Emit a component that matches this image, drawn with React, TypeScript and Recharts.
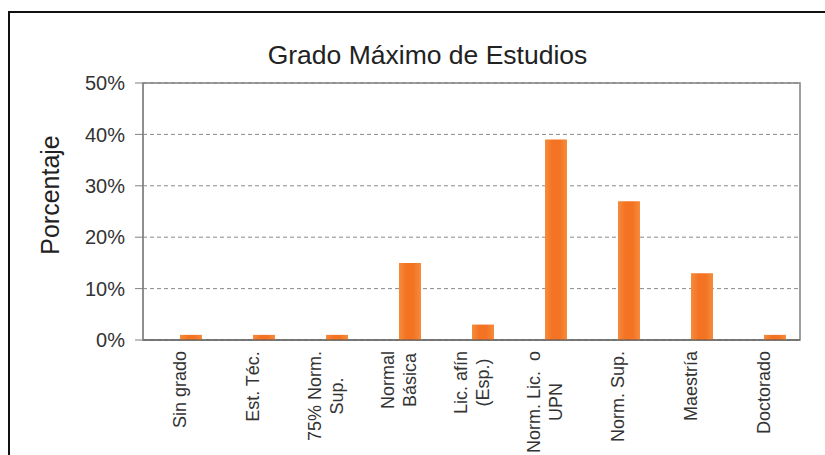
import { Bar, BarChart, CartesianGrid, ReferenceArea, XAxis, YAxis } from "recharts";

const FONT = "'Liberation Sans', Arial, sans-serif";
const ORANGE = "#F37323";
const AXIS = "#808080";

const categories = [
  "Sin grado",
  "Est. Téc.",
  "75% Norm.\nSup.",
  "Normal\nBásica",
  "Lic. afín\n(Esp.)",
  "Norm. Lic.  o\nUPN",
  "Norm. Sup.",
  "Maestría",
  "Doctorado",
];
// first series is empty in the source (only shifts the orange bars right)
const hidden = [0, 0, 0, 0, 0, 0, 0, 0, 0];
const porcentaje = [1, 1, 1, 15, 3, 39, 27, 13, 1];
const yTicks = [0, 10, 20, 30, 40, 50];

const data = categories.map((c, i) => ({ c, hidden: hidden[i], porcentaje: porcentaje[i] }));

let ctx: CanvasRenderingContext2D | null = null;
function textWidth(s: string, size: number) {
  if (!ctx) ctx = document.createElement("canvas").getContext("2d");
  if (!ctx) return s.length * size * 0.5;
  ctx.font = `${size}px 'Liberation Sans', Arial, sans-serif`;
  return ctx.measureText(s).width;
}

function CategoryTick(props: any) {
  const { x, y, payload } = props;
  const size = 18;
  const lines = String(payload.value).split("\n");
  const maxL = Math.max(...lines.map((l) => textWidth(l, size)));
  const u = -3 - maxL / 2;
  const lh = 22;
  return (
    <g transform={`translate(${x},${y})`}>
      {lines.map((l, i) => (
        <text
          key={i}
          transform="rotate(-90)"
          x={u}
          y={(i - (lines.length - 1) / 2) * lh}
          textAnchor="middle"
          dominantBaseline="central"
          fontSize={size}
          fontFamily={FONT}
          fill="#333"
          style={{ whiteSpace: "pre" }}
        >
          {l}
        </text>
      ))}
    </g>
  );
}

function YLabel() {
  return (
    <text
      transform="translate(50,195) rotate(-90)"
      textAnchor="middle"
      dominantBaseline="central"
      fontSize={25}
      fontFamily={FONT}
      fill="#222"
    >
      Porcentaje
    </text>
  );
}

export default function App() {
  return (
    <div style={{ position: "absolute", left: 0, top: 0, width: 825, height: 455, background: "#fff", overflow: "hidden" }}>
      <div
        style={{
          position: "absolute",
          left: 8,
          top: 11,
          width: 830,
          height: 460,
          borderLeft: "2px solid #111",
          borderTop: "2px solid #111",
        }}
      />
      <div
        style={{
          position: "absolute",
          left: 0,
          width: 855,
          top: 38,
          textAlign: "center",
          fontFamily: FONT,
          fontSize: 26.5,
          color: "#222",
          lineHeight: "34px",
        }}
      >
        Grado Máximo de Estudios
      </div>
      <div style={{ position: "absolute", left: 0, top: 0 }}>
        <BarChart
          width={825}
          height={455}
          data={data}
          margin={{ top: 83, right: 25, bottom: 0, left: 0 }}
          barGap={0}
          barSize={22}
        >
          <defs>
            <linearGradient id="orangeBar" x1="0" y1="0" x2="1" y2="0">
              <stop offset="0%" stopColor="#F68B3C" />
              <stop offset="35%" stopColor={ORANGE} />
              <stop offset="65%" stopColor={ORANGE} />
              <stop offset="100%" stopColor="#F68B3C" />
            </linearGradient>
          </defs>
          <CartesianGrid yAxisId="l" vertical={false} stroke="#8a8a8a" strokeDasharray="4 3" />
          <ReferenceArea yAxisId="l" y1={0} y2={50} fill="none" stroke={AXIS} strokeWidth={1.5} />
          <XAxis
            dataKey="c"
            interval={0}
            height={115}
            tickLine={false}
            axisLine={{ stroke: "#555" }}
            tick={<CategoryTick />}
          />
          <YAxis
            yAxisId="l"
            width={143}
            domain={[0, 50]}
            ticks={yTicks}
            tickFormatter={(v: number) => `${v}%`}
            tickSize={8}
            tickMargin={10}
            tickLine={{ stroke: AXIS }}
            axisLine={{ stroke: AXIS }}
            tick={{ fontSize: 20, fill: "#333", fontFamily: FONT }}
            label={<YLabel />}
          />
          <Bar yAxisId="l" dataKey="hidden" fill="#9DD9F3" isAnimationActive={false} />
          <Bar yAxisId="l" dataKey="porcentaje" fill="url(#orangeBar)" isAnimationActive={false} />
        </BarChart>
      </div>
    </div>
  );
}
